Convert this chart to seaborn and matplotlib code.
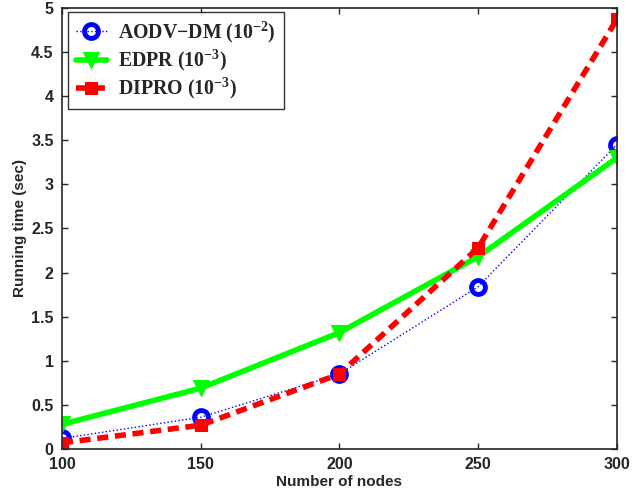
import matplotlib
matplotlib.use("Agg")
import matplotlib.pyplot as plt
import seaborn as sns
import pandas as pd

nodes = [100, 150, 200, 250, 300]
aodv_dm = [0.12, 0.36, 0.85, 1.84, 3.45]
edpr = [0.28, 0.69, 1.32, 2.18, 3.30]
dipro = [0.07, 0.27, 0.85, 2.28, 4.87]
labels = [r"AODV$-$DM (10$^{-2}$)", r"EDPR (10$^{-3}$)", r"DIPRO (10$^{-3}$)"]
xticks = [100, 150, 200, 250, 300]
yticks = [0, 0.5, 1, 1.5, 2, 2.5, 3, 3.5, 4, 4.5, 5]
yticklabels = ["0", "0.5", "1", "1.5", "2", "2.5", "3", "3.5", "4", "4.5", "5"]

sns.set_style("ticks")
plt.rcParams["font.family"] = ["Liberation Sans", "DejaVu Sans"]
plt.rcParams["mathtext.fontset"] = "custom"
plt.rcParams["mathtext.rm"] = "Liberation Serif:bold"
plt.rcParams["mathtext.it"] = "Liberation Serif:bold"
plt.rcParams["mathtext.bf"] = "Liberation Serif:bold"
plt.rcParams["mathtext.default"] = "rm"

fig = plt.figure(figsize=(6.32, 4.94), dpi=100)
ax = fig.add_axes([0.098, 0.091, 0.878, 0.893])

df = pd.DataFrame({"x": nodes, "a": aodv_dm, "e": edpr, "d": dipro})

sns.lineplot(data=df, x="x", y="a", ax=ax, color="blue", linestyle=":", linewidth=1.0,
             marker="o", markersize=10, markerfacecolor="none", markeredgecolor="blue",
             markeredgewidth=3.5, label=labels[0])
sns.lineplot(data=df, x="x", y="e", ax=ax, color="#00ff00", linestyle="-", linewidth=4,
             marker="v", markersize=12, markerfacecolor="#00ff00", markeredgecolor="#00ff00",
             label=labels[1])
sns.lineplot(data=df, x="x", y="d", ax=ax, color="red", linestyle=(0, (2, 1.2)), linewidth=4,
             marker="s", markersize=8, markerfacecolor="red", markeredgecolor="red",
             label=labels[2])

ax.set_xlim(100, 300)
ax.set_ylim(0, 5)
ax.set_xticks(xticks)
ax.set_xticklabels([str(t) for t in xticks], fontweight="bold", fontsize=11.5)
ax.set_yticks(yticks)
ax.set_yticklabels(yticklabels, fontweight="bold", fontsize=11.5)
ax.tick_params(axis="x", direction="in", top=True, length=4, width=1, pad=6)
ax.tick_params(axis="y", direction="in", right=True, length=4, width=1, pad=6)
for s in ax.spines.values():
    s.set_visible(True)
    s.set_linewidth(1.2)
    s.set_color("#262626")

ax.set_xlabel("Number of nodes", fontweight="bold", fontsize=11, labelpad=2)
ax.set_ylabel("Running time (sec)", fontweight="bold", fontsize=11, labelpad=3)

leg = ax.legend(loc="upper left", bbox_to_anchor=(0.011, 0.991), frameon=True, fancybox=False,
                edgecolor="black", prop={"family": "Liberation Serif", "weight": "bold", "size": 14.3},
                handlelength=1.55, borderpad=0.4, labelspacing=0.15, handletextpad=0.57,
                borderaxespad=0.0)
leg.get_frame().set_linewidth(1.0)

fig.savefig("out.png", dpi=100)
